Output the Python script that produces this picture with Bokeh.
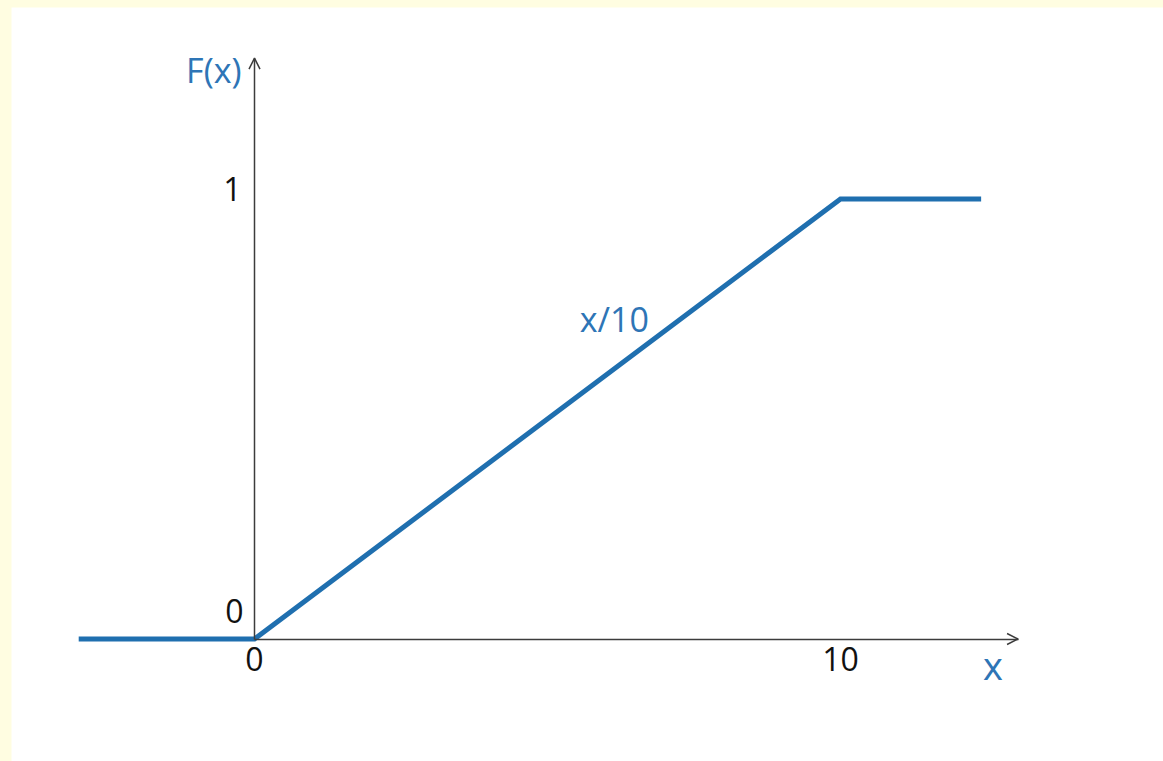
from bokeh.plotting import figure
from bokeh.models import (Range1d, LinearAxis, FixedTicker, Arrow, OpenHead, Label)
from bokeh.embed import file_html
from bokeh.resources import INLINE

# ---- data ----
x_vals = [-3, 0, 10, 12.4]
f_vals = [0, 0, 1, 1]
x_ticks = [0, 10]
x_tick_labels = ["0", "10"]
y_ticks = [0, 1]
y_tick_labels = ["0", "1"]
x_axis_end = 13.03
y_axis_end = 1.32

# ---- layout constants (pixels inside the figure) ----
W, H = 1152, 754
ORIGIN_X, ORIGIN_Y = 243.0, 631.5   # pixel position of (0,0) in the figure
PX_X, PX_Y = 58.6, 440.0            # pixels per data unit

BLUE = "#1F6FAF"
TEXT_BLUE = "#2E75B6"
AXIS = "#3C3C3C"
FONT = "Open Sans"
TICK_SIZE = "32px"
TICK_COLOR = "#111111"

p = figure(width=W, height=H, output_backend="svg", toolbar_location=None,
           x_range=Range1d(-ORIGIN_X / PX_X, (W - ORIGIN_X) / PX_X),
           y_range=Range1d(-(H - ORIGIN_Y) / PX_Y, ORIGIN_Y / PX_Y),
           x_axis_type=None, y_axis_type=None, min_border=0)
p.grid.visible = False
p.outline_line_color = None
p.background_fill_color = "white"
p.border_fill_color = "white"

def style_axis(ax):
    ax.major_tick_in = 0
    ax.major_tick_out = 0
    ax.minor_tick_in = 0
    ax.minor_tick_out = 0
    ax.axis_line_color = AXIS
    ax.axis_line_width = 1.5
    ax.major_label_text_font = FONT
    ax.major_label_text_font_size = TICK_SIZE
    ax.major_label_text_color = TICK_COLOR

xaxis = LinearAxis(fixed_location=0, ticker=FixedTicker(ticks=x_ticks),
                   bounds=(0, x_axis_end),
                   major_label_overrides={t: s for t, s in zip(x_ticks, x_tick_labels)})
style_axis(xaxis)
xaxis.major_label_standoff = 8
p.add_layout(xaxis, "below")

# y axis line through x = 0 (its tick labels sit above the ticks, drawn as labels)
yaxis = LinearAxis(fixed_location=0, ticker=FixedTicker(ticks=[]),
                   bounds=(0, y_axis_end))
style_axis(yaxis)
p.add_layout(yaxis, "left")

y_label_offsets = [(-11, 28), (-13, 10)]
for t, s, (dx, dy) in zip(y_ticks, y_tick_labels, y_label_offsets):
    p.add_layout(Label(x=0, y=t, x_offset=dx, y_offset=dy, text=s,
                       text_font=FONT, text_font_size=TICK_SIZE, text_color=TICK_COLOR,
                       text_align="right", text_baseline="alphabetic"))

# arrow heads at axis ends
p.add_layout(Arrow(end=OpenHead(size=11, line_color=AXIS, line_width=1.5),
                   x_start=0, y_start=0, x_end=x_axis_end, y_end=0,
                   line_alpha=0))
p.add_layout(Arrow(end=OpenHead(size=11, line_color=AXIS, line_width=1.5),
                   x_start=0, y_start=0, x_end=0, y_end=y_axis_end,
                   line_alpha=0))

# the distribution function
p.line(x_vals, f_vals, line_color=BLUE, line_width=5, line_join="miter")

# labels
p.add_layout(Label(x=0, y=y_axis_end, x_offset=-13, y_offset=-12, text="F(x)",
                   text_font=FONT, text_font_size="34px", text_color=TEXT_BLUE,
                   text_align="right", text_baseline="alphabetic"))
p.add_layout(Label(x=x_axis_end, y=0, x_offset=-25, y_offset=-26, text="x",
                   text_font=FONT, text_font_size="38px", text_color=TEXT_BLUE,
                   text_align="center", text_baseline="alphabetic"))
p.add_layout(Label(x=6.14, y=0.728, text="x/10",
                   text_font=FONT, text_font_size="34px", text_color=TEXT_BLUE,
                   text_align="center", text_baseline="alphabetic"))

html = file_html(p, INLINE)
style = ("<style>html,body{background:#FFFDE1;} "
         "body{margin:7px 0 0 11px;overflow:hidden;}</style></head>")
html = html.replace("</head>", style, 1)
open("out.html", "w").write(html)
